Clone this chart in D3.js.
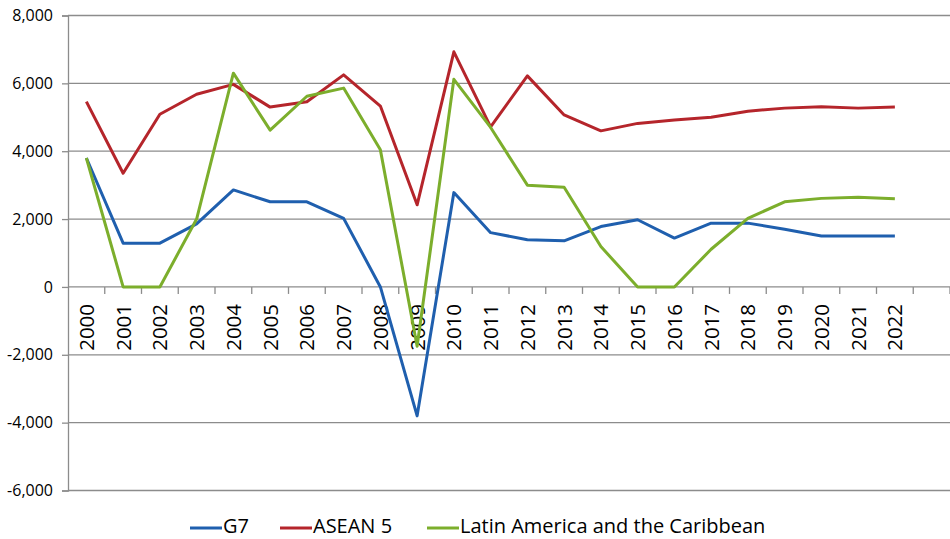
<!DOCTYPE html>
<html>
<head>
<meta charset="utf-8">
<script src="https://cdn.jsdelivr.net/npm/d3@7"></script>
<style>
  html, body { margin: 0; padding: 0; background: #fff; }
  svg { display: block; font-family: "Open Sans", "Noto Sans", sans-serif; }
</style>
</head>
<body>
<svg id="chart" width="950" height="539"></svg>
<script>
const years = ["2000","2001","2002","2003","2004","2005","2006","2007","2008","2009","2010","2011","2012","2013","2014","2015","2016","2017","2018","2019","2020","2021","2022"];
const g7 = [3800,1290,1290,1860,2860,2510,2510,2020,0,-3800,2780,1600,1390,1360,1780,1980,1440,1880,1880,1700,1500,1500,1500];
const asean5 = [5460,3350,5090,5680,5970,5300,5460,6250,5330,2420,6930,4720,6220,5070,4600,4820,4920,5000,5180,5270,5310,5270,5300];
const latam = [3800,0,0,2000,6300,4620,5620,5860,4040,-1750,6120,4700,3000,2940,1190,0,0,1110,2020,2510,2610,2640,2600];
const yTicks = [-6000,-4000,-2000,0,2000,4000,6000,8000];
const seriesNames = ["G7","ASEAN 5","Latin America and the Caribbean"];
const seriesColors = ["#1f5fae","#b5252b","#7cae2c"];

const svg = d3.select("#chart");
const pLeft = 68, pRight = 950, pTop = 15.5, pBottom = 490.5;
const bandDomain = years.concat(["__pad"]);
const x = d3.scaleBand().domain(bandDomain).range([pLeft, pLeft + 24*36.75]);
const y = d3.scaleLinear().domain([-6000, 8000]).range([pBottom, pTop]);

// gridlines
svg.append("g").selectAll("line").data(yTicks).join("line")
  .attr("x1", pLeft).attr("x2", pRight)
  .attr("y1", d => y(d)).attr("y2", d => y(d))
  .attr("stroke", "#8c8c8c").attr("stroke-width", 1.3);

// y axis
const fmt = d3.format(",");
const yAxis = d3.axisLeft(y).tickValues(yTicks).tickSize(6).tickPadding(9)
  .tickFormat(d => fmt(d).replace("\u2212", "-"));
const ya = svg.append("g").attr("transform", `translate(${pLeft},0)`).call(yAxis);
ya.select(".domain").attr("stroke", "#8c8c8c").attr("stroke-width", 1.3);
ya.selectAll(".tick line").attr("stroke", "#8c8c8c").attr("stroke-width", 1.3);
ya.selectAll("text").attr("font-size", 16).attr("fill", "#000").attr("font-family", "\"Open Sans\", sans-serif");

// x axis at zero: tick marks at band boundaries
const boundaries = d3.range(0, 25).map(i => pLeft + i * x.step());
svg.append("g").selectAll("line").data(boundaries.slice(1)).join("line")
  .attr("x1", d => d).attr("x2", d => d)
  .attr("y1", y(0)).attr("y2", y(0) + 7)
  .attr("stroke", "#8c8c8c").attr("stroke-width", 1.3);

// x labels
svg.append("g").selectAll("text").data(years).join("text")
  .attr("transform", d => `translate(${x(d) + x.bandwidth()/2},${y(0) + 17}) rotate(-90)`)
  .attr("text-anchor", "end").attr("dy", "0.36em")
  .attr("font-size", 20.5).attr("fill", "#000")
  .text(d => d);

// lines
const line = d3.line().x((d, i) => x(years[i]) + x.bandwidth()/2).y(d => y(d));
[g7, asean5, latam].forEach((s, k) => {
  svg.append("path").datum(s)
    .attr("fill", "none").attr("stroke", seriesColors[k]).attr("stroke-width", 3)
    .attr("stroke-linejoin", "round")
    .attr("d", line);
});

// legend
const legendX = [190, 280, 427];
const lg = svg.append("g");
seriesNames.forEach((n, k) => {
  lg.append("line").attr("x1", legendX[k]).attr("x2", legendX[k] + 32)
    .attr("y1", 528).attr("y2", 528)
    .attr("stroke", seriesColors[k]).attr("stroke-width", 3);
  lg.append("text").attr("x", legendX[k] + 33).attr("y", 532.5)
    .attr("font-size", 20).attr("fill", "#000").text(n);
});
</script>
</body>
</html>
